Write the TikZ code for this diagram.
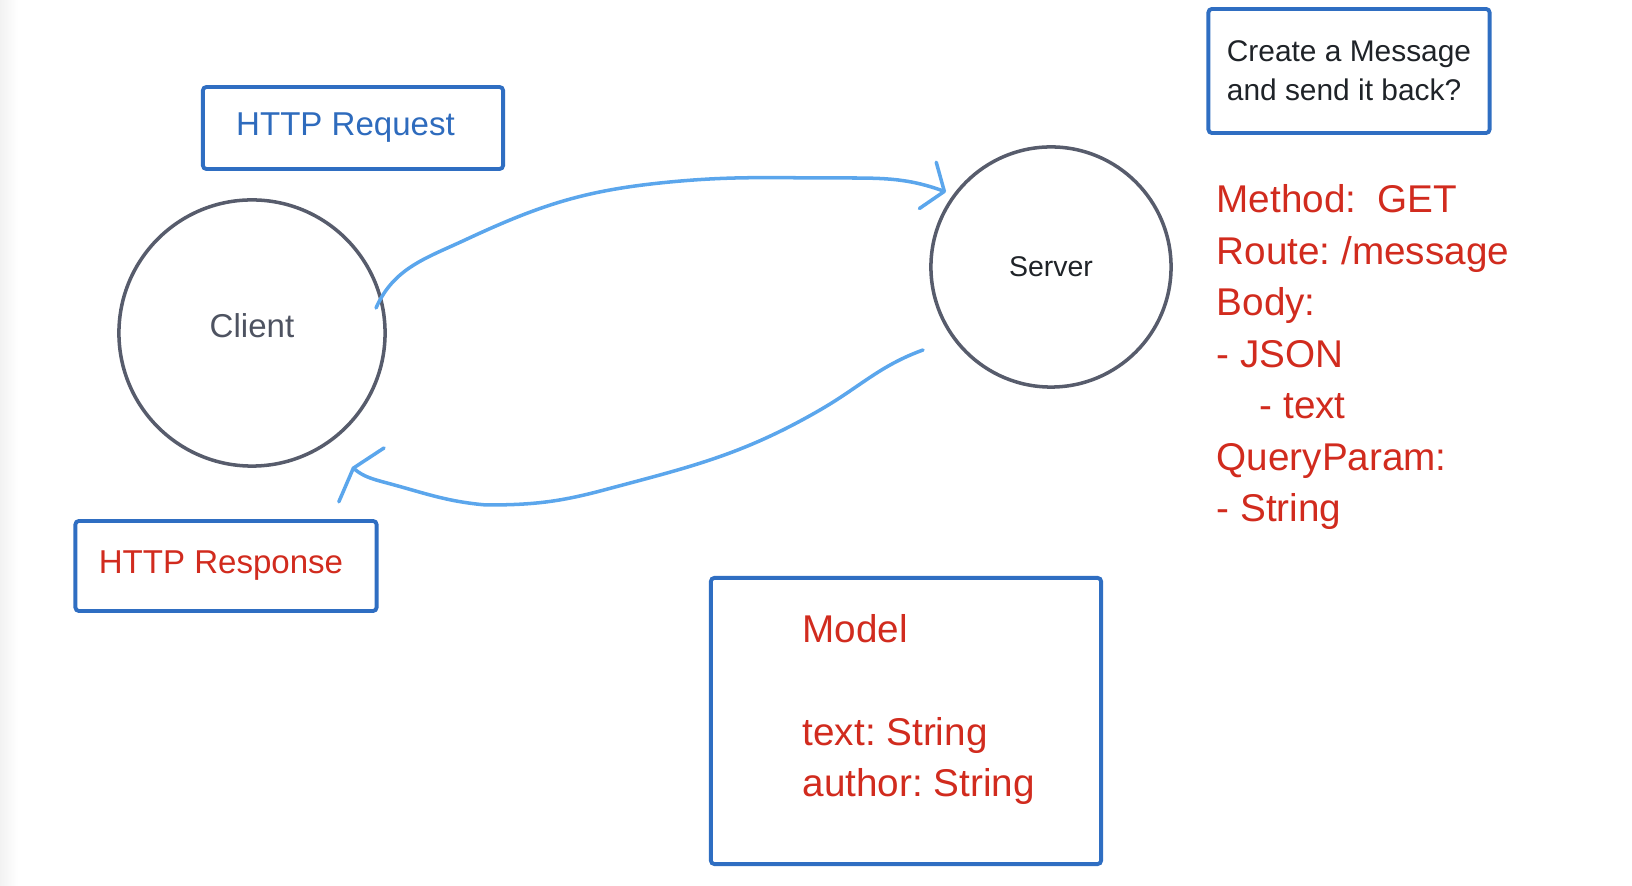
\documentclass[tikz,border=0pt]{standalone}
\usepackage{fontspec}
\setmainfont{Liberation Sans}
\usetikzlibrary{arrows.meta}
\usetikzlibrary{calc}
\frenchspacing

\definecolor{boxblue}{HTML}{2F6EC2}
\definecolor{reqblue}{HTML}{2E6BBD}
\definecolor{noteRed}{HTML}{D12B1E}
\definecolor{ringgray}{HTML}{575C6C}
\definecolor{linkblue}{HTML}{5BA6EC}
\definecolor{inkblack}{HTML}{1F2328}

\tikzset{
    box/.style={draw=boxblue, line width=1.1pt, rounded corners=1pt, inner sep=0pt},
    ring/.style={circle, draw=ringgray, line width=1pt, inner sep=0pt},
    link/.style={draw=linkblue, line width=1pt, line cap=round, line join=round},
    reqhead/.style={-{Straight Barb[length=5pt,width=14pt,round]}},
    reshead/.style={-{Straight Barb[length=3pt,width=20pt,round]}},
    bigred/.style={text=noteRed, font=\fontsize{11}{14.65}\selectfont, align=left, inner sep=0pt},
}

\begin{document}
\begin{tikzpicture}[x=0.01cm, y=-0.01cm]
    \useasboundingbox (0,0) rectangle (1632,886);
    \fill[left color=black!5, right color=white] (0,0) rectangle (18,886);

    % the two ends
    \node[ring, minimum size=2.66cm, text=ringgray!90!black, font=\fontsize{9.4}{11}\selectfont,
          text height=0.25cm, text depth=0.16cm] (client) at (252,333) {Client};
    \node[ring, minimum size=2.4cm, text=inkblack, font=\fontsize{8.1}{10}\selectfont] (server) at (1051,267) {Server};

    % boxed labels
    \node[box, minimum width=3cm, minimum height=0.82cm, text=reqblue, font=\fontsize{9.4}{11}\selectfont] (req) at (353,128) {HTTP Request\hspace*{0.15cm}};
    \node[box, minimum width=3.01cm, minimum height=0.9cm, text=noteRed, font=\fontsize{9.4}{11}\selectfont] (res) at (226,566) {HTTP Response\hspace*{0.1cm}};
    \node[box, minimum width=2.81cm, minimum height=1.24cm, text=inkblack, align=left, font=\fontsize{8.5}{11.1}\selectfont] (ask) at (1349,71) {Create a Message\\and send it back?};
    \node[box, minimum width=3.9cm, minimum height=2.86cm] (model) at (906,721) {};
    \node[bigred, font=\fontsize{11}{14.6}\selectfont, anchor=north west] (fields) at (802,614) {Model\\[14.6pt]text: String\\author: String};

    % request details
    \node[bigred, anchor=north west] (route) at (1216,184) {Method:\hspace{0.55em}GET\\Route: /message\\Body:\\- JSON\\\hspace*{0.43cm}- text\\QueryParam:\\- String};

    % request and response
    \coordinate (rqs) at ($(client.center)+(124,-25)$);
    \coordinate (rqe) at ($(server.center)+(-105,-75)$);
    \coordinate (rss) at ($(server.center)+(-128,83)$);
    \coordinate (rse) at ($(client.center)+(100,134)$);
    \draw[link, reqhead] (rqs) to[out=66,in=205] (465,240) to[out=25,in=186] (660,183) to[out=6,in=180] (840,178) to[out=0,in=160] (rqe);
    \draw[link, reshead] (rss) to[out=200,in=30] (820,410) to[out=210,in=15] (604,490) to[out=195,in=0] (486,505) to[out=175,in=-15] (387,483) to[out=165,in=-40] (rse);
\end{tikzpicture}
\end{document}
